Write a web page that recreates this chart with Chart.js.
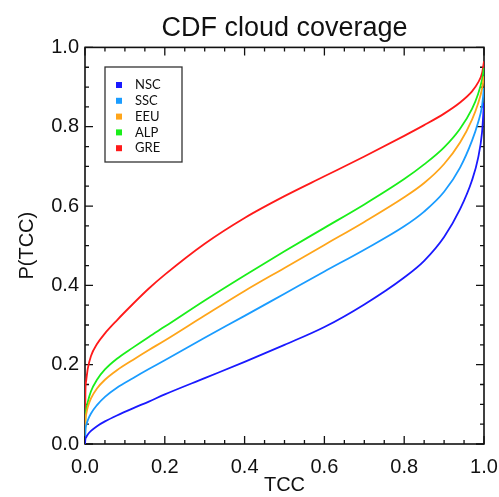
<!DOCTYPE html>
<html>
<head>
<meta charset="utf-8">
<script src="https://cdn.jsdelivr.net/npm/chart.js@4/dist/chart.umd.min.js"></script>
<style>
  html, body { margin: 0; padding: 0; background: #fff; }
  #wrap { width: 499px; height: 497px; }
</style>
</head>
<body>
<div id="wrap"><canvas id="cdfChart"></canvas></div>
<script>
// TCC sample positions and CDF values per region
const tcc = [0, 0.001, 0.003, 0.007, 0.015, 0.03, 0.05, 0.08, 0.12, 0.16, 0.2, 0.3, 0.4, 0.5, 0.6, 0.7, 0.8, 0.85, 0.9, 0.94, 0.97, 0.985, 0.995, 1.0];

const nsc = [0, 0.012, 0.017, 0.024, 0.033, 0.045, 0.057, 0.072, 0.09, 0.107, 0.125, 0.166, 0.207, 0.25, 0.295, 0.352, 0.42, 0.462, 0.522, 0.592, 0.665, 0.72, 0.785, 0.86];
const ssc = [0, 0.034, 0.047, 0.06, 0.077, 0.098, 0.119, 0.142, 0.166, 0.189, 0.211, 0.268, 0.323, 0.379, 0.435, 0.49, 0.549, 0.586, 0.636, 0.697, 0.765, 0.81, 0.852, 0.898];
const eeu = [0, 0.058, 0.075, 0.093, 0.115, 0.14, 0.162, 0.186, 0.212, 0.237, 0.261, 0.324, 0.386, 0.444, 0.502, 0.56, 0.622, 0.658, 0.706, 0.76, 0.818, 0.858, 0.895, 0.927];
const alp = [0, 0.064, 0.086, 0.106, 0.133, 0.162, 0.188, 0.215, 0.243, 0.27, 0.296, 0.362, 0.425, 0.486, 0.545, 0.604, 0.668, 0.705, 0.748, 0.795, 0.845, 0.882, 0.918, 0.948];
const gre = [0, 0.128, 0.16, 0.19, 0.222, 0.252, 0.279, 0.312, 0.353, 0.392, 0.427, 0.505, 0.57, 0.625, 0.675, 0.725, 0.777, 0.804, 0.833, 0.861, 0.889, 0.911, 0.935, 0.965];

const regions = ['NSC', 'SSC', 'EEU', 'ALP', 'GRE'];
const colors = ['#1a1aff', '#1a9cff', '#ffa51a', '#1aee1a', '#ff1a1a'];
const tickValues = [0.0, 0.2, 0.4, 0.6, 0.8, 1.0];
const minorStep = 0.05;

const series = [nsc, ssc, eeu, alp, gre];

const datasets = series.map((vals, i) => ({
  label: regions[i],
  data: vals.map((v, k) => ({ x: tcc[k], y: v })),
  borderColor: colors[i],
  backgroundColor: colors[i],
  borderWidth: 1.8,
  pointRadius: 0,
  cubicInterpolationMode: 'monotone',
  fill: false
}));

// box frame with inward ticks on all four sides
const frameTicks = {
  id: 'frameTicks',
  beforeDatasetsDraw(chart) {
    const { ctx, chartArea: a, scales: { x, y } } = chart;
    ctx.save();
    ctx.strokeStyle = '#111';
    ctx.lineWidth = 1.6;
    ctx.strokeRect(a.left, a.top, a.right - a.left, a.bottom - a.top);
    ctx.lineWidth = 1.3;
    const n = Math.round(1 / minorStep);
    for (let k = 0; k <= n; k++) {
      const v = k * minorStep;
      const major = tickValues.some(t => Math.abs(t - v) < 1e-6);
      const len = major ? 8 : 4;
      const px = x.getPixelForValue(v);
      const py = y.getPixelForValue(v);
      ctx.beginPath();
      ctx.moveTo(px, a.bottom); ctx.lineTo(px, a.bottom - len);
      ctx.moveTo(px, a.top); ctx.lineTo(px, a.top + len);
      ctx.moveTo(a.left, py); ctx.lineTo(a.left + len, py);
      ctx.moveTo(a.right, py); ctx.lineTo(a.right - len, py);
      ctx.stroke();
    }
    ctx.restore();
  }
};

// boxed legend in the upper left corner of the plot
const boxLegend = {
  id: 'boxLegend',
  afterDraw(chart) {
    const { ctx } = chart;
    const bx = 105, by = 67, bw = 77, bh = 95;
    ctx.save();
    ctx.fillStyle = '#fff';
    ctx.fillRect(bx, by, bw, bh);
    ctx.strokeStyle = '#333';
    ctx.lineWidth = 1.3;
    ctx.strokeRect(bx, by, bw, bh);
    ctx.font = '13px Lato, "Open Sans", sans-serif';
    ctx.textBaseline = 'middle';
    chart.data.datasets.forEach((ds, i) => {
      const cy = 85 + i * 15.8;
      ctx.fillStyle = ds.borderColor;
      ctx.fillRect(116, cy - 3, 6, 6);
      ctx.fillStyle = '#111';
      ctx.fillText(ds.label, 135, cy);
    });
    ctx.restore();
  }
};

const axisFont = { family: 'Arial, "Liberation Sans", Helvetica, sans-serif', size: 20 };

new Chart(document.getElementById('cdfChart'), {
  type: 'line',
  data: { datasets },
  plugins: [frameTicks, boxLegend],
  options: {
    responsive: true,
    maintainAspectRatio: false,
    animation: false,
    layout: { padding: { left: 0, right: 15, top: 0, bottom: 0 } },
    plugins: {
      legend: { display: false },
      tooltip: { enabled: false },
      title: {
        display: true,
        text: 'CDF cloud coverage',
        fullSize: false,
        color: '#111',
        font: { family: axisFont.family, size: 27, weight: 'normal' },
        padding: { top: 12, bottom: 3 }
      }
    },
    scales: {
      x: {
        type: 'linear',
        min: 0,
        max: 1,
        afterFit(scale) {
          scale.height = 53;
          scale.paddingLeft = 0;
          scale.paddingRight = 0;
        },
        afterBuildTicks(scale) { scale.ticks = tickValues.map(v => ({ value: v })); },
        grid: { display: false, drawTicks: false, tickLength: 0 },
        border: { display: false },
        ticks: {
          color: '#111',
          font: axisFont,
          padding: 11,
          maxRotation: 0,
          callback: v => v.toFixed(1)
        },
        title: {
          display: true,
          text: 'TCC',
          color: '#111',
          font: axisFont,
          padding: 0
        }
      },
      y: {
        type: 'linear',
        min: 0,
        max: 1,
        afterFit(scale) {
          scale.width = 85;
          scale.paddingTop = 0;
          scale.paddingBottom = 0;
        },
        afterBuildTicks(scale) { scale.ticks = tickValues.map(v => ({ value: v })); },
        grid: { display: false, drawTicks: false, tickLength: 0 },
        border: { display: false },
        ticks: {
          color: '#111',
          font: axisFont,
          padding: 6,
          callback: v => v.toFixed(1)
        },
        title: {
          display: true,
          text: 'P(TCC)',
          color: '#111',
          font: axisFont,
          padding: { top: 15, bottom: 0 }
        }
      }
    }
  }
});
</script>
</body>
</html>
